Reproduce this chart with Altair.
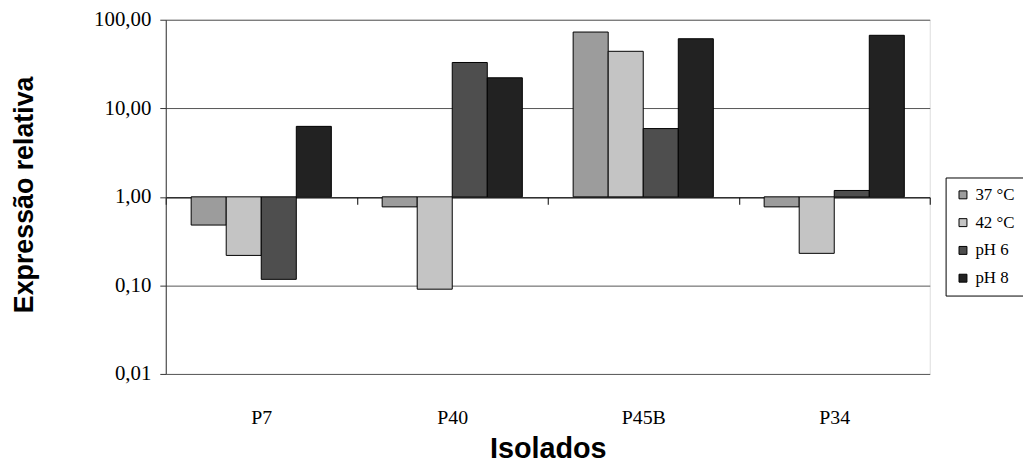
import altair as alt
import pandas as pd

isolados = ["P7", "P40", "P45B", "P34"]
condicoes = ["37 °C", "42 °C", "pH 6", "pH 8"]
v37 = [0.48, 0.77, 72.6, 0.77]
v42 = [0.218, 0.0906, 44.0, 0.23]
vph6 = [0.117, 32.9, 5.9, 1.18]
vph8 = [6.25, 22.1, 61.0, 66.7]
cores = ["#9c9c9c", "#c4c4c4", "#4e4e4e", "#222222"]
y_ticks = [0.01, 0.1, 1, 10, 100]

rows = []
for series_name, vals in zip(condicoes, [v37, v42, vph6, vph8]):
    for iso, v in zip(isolados, vals):
        rows.append({"Isolado": iso, "Condicao": series_name, "valor": v})
df = pd.DataFrame(rows)

serif = "Liberation Serif"
sans = "Liberation Sans"

bars = alt.Chart(df).mark_bar(stroke="black", strokeWidth=1).encode(
    x=alt.X(
        "Isolado:N",
        sort=isolados,
        scale=alt.Scale(paddingInner=0, paddingOuter=0),
        axis=alt.Axis(
            title="Isolados",
            offset=-178,
            domainColor="#000000",
            domainWidth=1,
            tickBand="extent",
            ticks=True,
            tickSize=7,
            tickWidth=1,
            tickColor="#000000",
            labelPadding=205,
            labelFont=serif,
            labelFontSize=20,
            labelColor="#000000",
            labelAngle=0,
            titleFont=sans,
            titleFontSize=29,
            titleFontWeight="bold",
            titleColor="#000000",
            titleY=253,
            titleBaseline="middle",
        ),
    ),
    xOffset=alt.XOffset(
        "Condicao:N",
        sort=condicoes,
        scale=alt.Scale(paddingInner=0, paddingOuter=0.725),
    ),
    y=alt.Y(
        "valor:Q",
        scale=alt.Scale(type="log", domain=[0.01, 100], nice=False),
        axis=alt.Axis(
            title="Expressão relativa",
            values=y_ticks,
            labelExpr="replace(format(datum.value, '.2f'), '.', ',')",
            grid=True,
            gridColor="#555555",
            gridWidth=1,
            domainColor="#333333",
            tickColor="#333333",
            tickSize=6,
            labelPadding=9,
            labelFont=serif,
            labelFontSize=21,
            labelColor="#000000",
            titleFont=sans,
            titleFontSize=27,
            titleFontWeight="bold",
            titleColor="#000000",
            titleX=-142,
            titleY=176,
            titleBaseline="middle",
            titleAlign="center",
        ),
    ),
    y2=alt.datum(1),
    fill=alt.Fill(
        "Condicao:N",
        sort=condicoes,
        scale=alt.Scale(domain=condicoes, range=cores),
        legend=alt.Legend(
            title=None,
            orient="none",
            legendX=786,
            legendY=159,
            symbolType="square",
            symbolSize=64,
            symbolStrokeColor="#000000",
            symbolStrokeWidth=1,
            labelFont=serif,
            labelFontSize=17,
            labelColor="#000000",
            labelOffset=4,
            rowPadding=10,
            padding=9,
            strokeColor="#000000",
            fillColor="#ffffff",
        ),
    ),
)

chart = (
    bars.properties(
        width=770,
        height=357,
        autosize=alt.AutoSizeParams(type="none"),
        padding={"left": 159, "top": 10, "right": 94, "bottom": 96},
    )
    .configure_view(stroke="#8a8a8a", strokeWidth=1)
    .configure(background="#ffffff")
)

chart.save("out.html", embed_options={"renderer": "svg", "actions": False})
